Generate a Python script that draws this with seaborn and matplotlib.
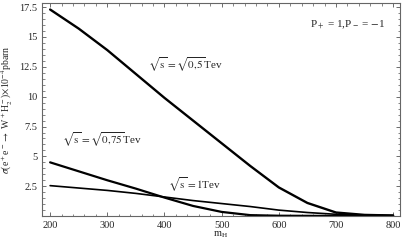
import numpy as np
import pandas as pd
from matplotlib import pyplot as plt
from matplotlib.ticker import MultipleLocator
import seaborn as sns

# values
m_h = [200, 250, 300, 350, 400, 450, 500, 550, 600, 650, 700, 750, 800]
sigma_05 = [17.3, 15.7, 13.9, 11.9, 9.9, 8.0, 6.1, 4.2, 2.4, 1.1, 0.3, 0.1, 0.05]
sigma_075 = [4.5, 3.75, 3.0, 2.3, 1.55, 0.85, 0.35, 0.08, 0.03, 0.02, 0.01, 0.01, 0.01]
sigma_1 = [2.55, 2.35, 2.15, 1.9, 1.6, 1.3, 1.05, 0.8, 0.5, 0.3, 0.15, 0.08, 0.05]

sns.set_style('ticks')
plt.rcParams['font.family'] = ['Liberation Serif', 'DejaVu Serif']
plt.rcParams['mathtext.fontset'] = 'stix'

fig = plt.figure(figsize=(4.09, 2.45), dpi=100)
ax = fig.add_axes([0.103, 0.118, 0.875, 0.870])

sns.lineplot(x=m_h, y=sigma_05, color='black', lw=1.7, ax=ax)
sns.lineplot(x=m_h, y=sigma_075, color='black', lw=1.6, ax=ax)
sns.lineplot(x=m_h, y=sigma_1, color='black', lw=1.2, ax=ax)

ax.set_xlim(186, 812)
ax.set_ylim(0, 17.85)
ax.xaxis.set_major_locator(MultipleLocator(100))
ax.xaxis.set_minor_locator(MultipleLocator(20))
ax.yaxis.set_minor_locator(MultipleLocator(0.5))
ax.set_yticks([2.5, 5, 7.5, 10, 12.5, 15, 17.5])
ax.set_yticklabels(['2.5', '5', '7.5', '10', '12.5', '15', '17.5'])
ax.tick_params(which='both', direction='in', top=True, right=True, labelsize=7.5, color='#555555')
ax.tick_params(which='major', length=3, width=0.6)
ax.tick_params(which='minor', length=1.8, width=0.5)
for s in ax.spines.values():
    s.set_color('#666666')
    s.set_linewidth(0.8)

ax.set_xlabel(r'm$_{\rm H}$', fontsize=7.5, labelpad=0)
ax.set_ylabel(r'$\sigma$(e$^+$e$^-$$\rightarrow$ W$^+$H$_2^-$)$\times$10$^{-4}$pbarn', fontsize=7, labelpad=3)

ax.text(371, 12.7, r'$\sqrt{\rm s}=\sqrt{0{,}5}$Tev', fontsize=8, va='center')
ax.text(221, 6.35, r'$\sqrt{\rm s}=\sqrt{0{,}75}$Tev', fontsize=8, va='center')
ax.text(406, 2.6, r'$\sqrt{\rm s}=1$Tev', fontsize=8, va='center')
ax.text(786, 16.0, r'P$_+$ = 1,P$_-$ = $-$1', fontsize=8, va='center', ha='right')

fig.savefig('out.png', dpi=100)
